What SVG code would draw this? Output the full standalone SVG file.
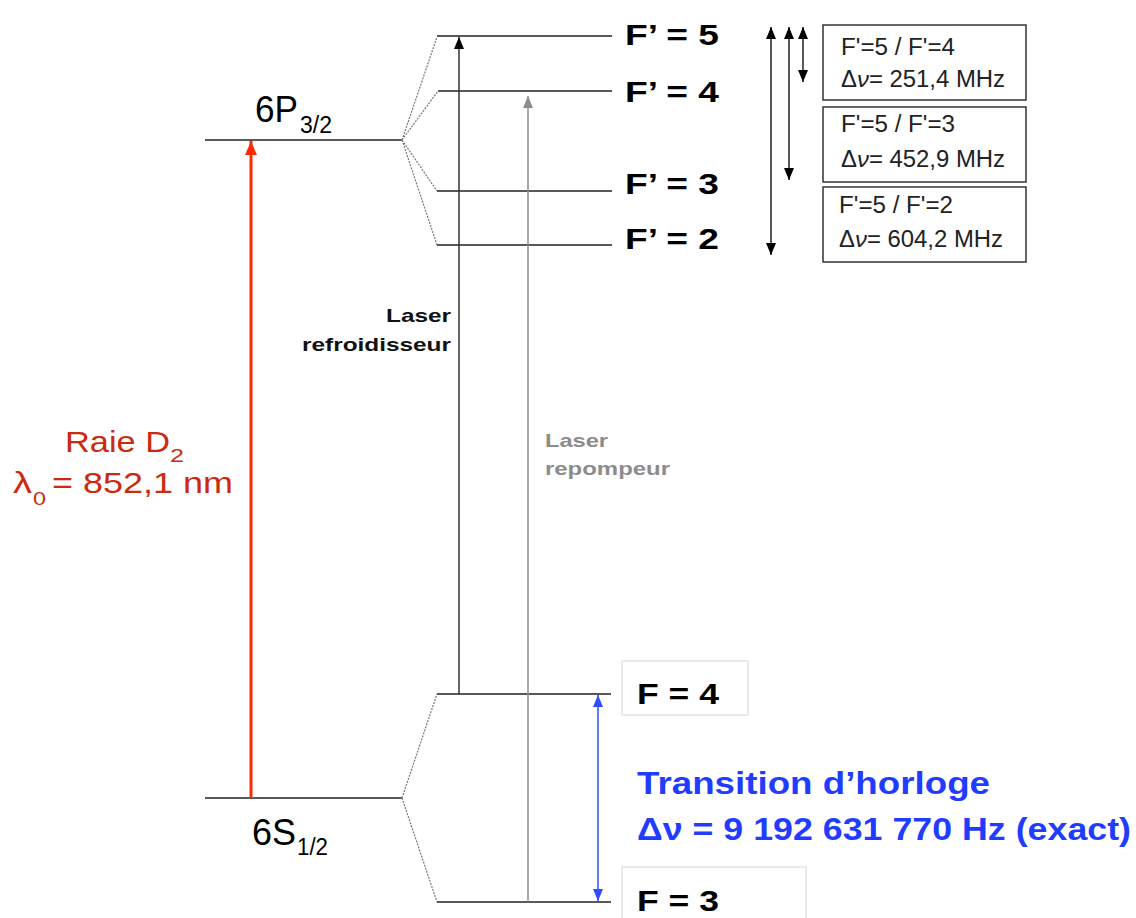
<svg xmlns="http://www.w3.org/2000/svg" width="1136" height="918" viewBox="0 0 1136 918">
  <style>
    .lvl { stroke: #222; stroke-width: 1.5; fill: none; }
    .split { stroke: #777; stroke-width: 1.2; stroke-dasharray: 2 1.2; fill: none; }
    .flab { font-family: "Liberation Sans", Arial, sans-serif; font-weight: bold; font-size: 30px; fill: #000; }
    .blab { font-family: "Liberation Sans", Arial, sans-serif; font-size: 23px; fill: #222; }
    .box { fill: #fff; stroke: #333; stroke-width: 1.5; }
    .wbox { fill: #fff; stroke: #ddd; stroke-width: 1.2; }
    .term { font-family: "Liberation Sans", Arial, sans-serif; fill: #000; }
    .red { font-family: "Liberation Sans", Arial, sans-serif; fill: #cc2a10; }
    .blue { font-family: "Liberation Sans", Arial, sans-serif; font-weight: bold; font-size: 31px; fill: #1f3cff; }
    .laserk { font-family: "Liberation Sans", Arial, sans-serif; font-weight: bold; font-size: 19px; fill: #111; }
    .laserg { font-family: "Liberation Sans", Arial, sans-serif; font-weight: bold; font-size: 19px; fill: #8c8c8c; }
  </style>
  <defs>
    <marker id="ak" markerUnits="userSpaceOnUse" markerWidth="12" markerHeight="10" refX="12" refY="5" orient="auto-start-reverse">
      <path d="M0,0 L12,5 L0,10 z" fill="#000"/>
    </marker>
    <marker id="ag" markerUnits="userSpaceOnUse" markerWidth="12" markerHeight="10" refX="12" refY="5" orient="auto-start-reverse">
      <path d="M0,0 L12,5 L0,10 z" fill="#8c8c8c"/>
    </marker>
    <marker id="ar" markerUnits="userSpaceOnUse" markerWidth="14" markerHeight="12" refX="14" refY="6" orient="auto-start-reverse">
      <path d="M0,0 L14,6 L0,12 z" fill="#ff2a00"/>
    </marker>
    <marker id="ab" markerUnits="userSpaceOnUse" markerWidth="12" markerHeight="10" refX="12" refY="5" orient="auto-start-reverse">
      <path d="M0,0 L12,5 L0,10 z" fill="#2f4cff"/>
    </marker>
  </defs>

  <!-- 6P3/2 -->
  <g id="level-6P32">
    <line class="lvl" x1="205" y1="140" x2="402" y2="140"/>
    <text class="term" x="255" y="122" font-size="36" textLength="43" lengthAdjust="spacingAndGlyphs">6P</text>
    <text class="term" x="300" y="133" font-size="23" textLength="32" lengthAdjust="spacingAndGlyphs">3/2</text>
  </g>

  <!-- 6S1/2 -->
  <g id="level-6S12">
    <line class="lvl" x1="205" y1="798" x2="402" y2="798"/>
    <text class="term" x="252" y="845" font-size="36" textLength="44" lengthAdjust="spacingAndGlyphs">6S</text>
    <text class="term" x="297" y="855" font-size="23" textLength="31" lengthAdjust="spacingAndGlyphs">1/2</text>
  </g>

  <!-- hyperfine splits -->
  <g id="splits">
    <path class="split" d="M402,140 L437,37 M402,140 L438,91 M402,140 L437,191 M402,140 L437,245"/>
    <path class="split" d="M402,798 L437,694 M402,798 L437,902"/>
  </g>

  <g id="level-Fp5">
    <line class="lvl" x1="437" y1="36" x2="612" y2="36"/>
    <text class="flab" x="625" y="45" textLength="94" lengthAdjust="spacingAndGlyphs">F’ = 5</text>
  </g>
  <g id="level-Fp4">
    <line class="lvl" x1="438" y1="91" x2="612" y2="91"/>
    <text class="flab" x="625" y="102" textLength="94" lengthAdjust="spacingAndGlyphs">F’ = 4</text>
  </g>
  <g id="level-Fp3">
    <line class="lvl" x1="437" y1="191" x2="612" y2="191"/>
    <text class="flab" x="625" y="194" textLength="94" lengthAdjust="spacingAndGlyphs">F’ = 3</text>
  </g>
  <g id="level-Fp2">
    <line class="lvl" x1="437" y1="245" x2="612" y2="245"/>
    <text class="flab" x="625" y="249" textLength="94" lengthAdjust="spacingAndGlyphs">F’ = 2</text>
  </g>

  <g id="level-F4">
    <line class="lvl" x1="437" y1="694" x2="611" y2="694"/>
    <rect class="wbox" x="622" y="661" width="126" height="54"/>
    <text class="flab" x="637" y="704" textLength="82" lengthAdjust="spacingAndGlyphs">F = 4</text>
  </g>
  <g id="level-F3">
    <line class="lvl" x1="437" y1="902" x2="611" y2="902"/>
    <rect class="wbox" x="622" y="867" width="184" height="60"/>
    <text class="flab" x="637" y="911" textLength="82" lengthAdjust="spacingAndGlyphs">F = 3</text>
  </g>

  <!-- info boxes -->
  <g id="box-54">
    <rect class="box" x="823" y="25" width="203" height="75"/>
    <text class="blab" x="841" y="55" textLength="114" lengthAdjust="spacingAndGlyphs">F'=5 / F'=4</text>
    <text class="blab" x="841" y="87" textLength="164" lengthAdjust="spacingAndGlyphs">Δ<tspan font-style="italic">ν</tspan>= 251,4 MHz</text>
  </g>
  <g id="box-53">
    <rect class="box" x="823" y="107" width="203" height="75"/>
    <text class="blab" x="841" y="132" textLength="114" lengthAdjust="spacingAndGlyphs">F'=5 / F'=3</text>
    <text class="blab" x="841" y="167" textLength="164" lengthAdjust="spacingAndGlyphs">Δ<tspan font-style="italic">ν</tspan>= 452,9 MHz</text>
  </g>
  <g id="box-52">
    <rect class="box" x="823" y="187" width="203" height="75"/>
    <text class="blab" x="839" y="213" textLength="114" lengthAdjust="spacingAndGlyphs">F'=5 / F'=2</text>
    <text class="blab" x="839" y="247" textLength="164" lengthAdjust="spacingAndGlyphs">Δ<tspan font-style="italic">ν</tspan>= 604,2 MHz</text>
  </g>

  <!-- labels -->
  <g id="label-D2">
    <text class="red" x="65" y="452" font-size="29" textLength="105" lengthAdjust="spacingAndGlyphs">Raie D</text>
    <text class="red" x="170" y="462" font-size="19" textLength="14" lengthAdjust="spacingAndGlyphs">2</text>
    <text class="red" x="13" y="493" font-size="29" textLength="19" lengthAdjust="spacingAndGlyphs">λ</text>
    <text class="red" x="33" y="505" font-size="19" textLength="13" lengthAdjust="spacingAndGlyphs">0</text>
    <text class="red" x="52" y="493" font-size="29" textLength="181" lengthAdjust="spacingAndGlyphs">= 852,1 nm</text>
  </g>
  <g id="label-refroidisseur">
    <text class="laserk" x="451" y="322" text-anchor="end" textLength="65" lengthAdjust="spacingAndGlyphs">Laser</text>
    <text class="laserk" x="451" y="351" text-anchor="end" textLength="149" lengthAdjust="spacingAndGlyphs">refroidisseur</text>
  </g>
  <g id="label-repompeur">
    <text class="laserg" x="545" y="447" textLength="63" lengthAdjust="spacingAndGlyphs">Laser</text>
    <text class="laserg" x="545" y="475" textLength="125" lengthAdjust="spacingAndGlyphs">repompeur</text>
  </g>
  <g id="label-horloge">
    <text class="blue" x="637" y="794" textLength="353" lengthAdjust="spacingAndGlyphs">Transition d’horloge</text>
    <text class="blue" x="637" y="840" textLength="494" lengthAdjust="spacingAndGlyphs">Δν = 9 192 631 770 Hz (exact)</text>
  </g>

  <!-- connectors -->
  <g id="connectors">
    <line x1="251" y1="798" x2="251" y2="141" stroke="#ff2a00" stroke-width="3" marker-end="url(#ar)"/>
    <line x1="459" y1="694" x2="459" y2="37" stroke="#333" stroke-width="1.5" marker-end="url(#ak)"/>
    <line x1="528" y1="902" x2="528" y2="96" stroke="#8c8c8c" stroke-width="1.5" marker-end="url(#ag)"/>
    <line x1="598" y1="695" x2="598" y2="901" stroke="#2f4cff" stroke-width="1.5" marker-start="url(#ab)" marker-end="url(#ab)"/>
    <line x1="771" y1="27" x2="771" y2="255" stroke="#222" stroke-width="1.5" marker-start="url(#ak)" marker-end="url(#ak)"/>
    <line x1="789" y1="27" x2="789" y2="180" stroke="#222" stroke-width="1.5" marker-start="url(#ak)" marker-end="url(#ak)"/>
    <line x1="803" y1="27" x2="803" y2="82" stroke="#222" stroke-width="1.5" marker-start="url(#ak)" marker-end="url(#ak)"/>
  </g>
</svg>
